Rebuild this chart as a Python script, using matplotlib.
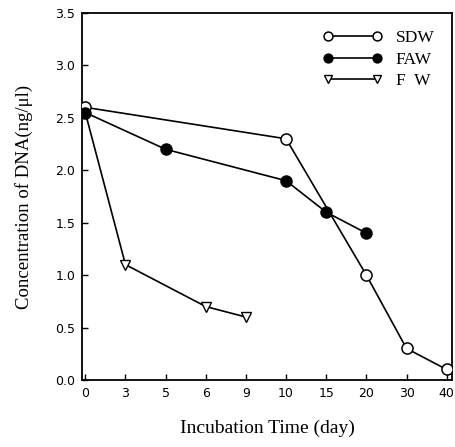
import matplotlib
matplotlib.use("Agg")
import matplotlib.pyplot as plt

# categorical day axis (equally spaced in the original)
days = ["0", "3", "5", "6", "9", "10", "15", "20", "30", "40"]

sdw_days = ["0", "10", "20", "30", "40"]
sdw_vals = [2.6, 2.3, 1.0, 0.3, 0.1]

faw_days = ["0", "5", "10", "15", "20"]
faw_vals = [2.55, 2.2, 1.9, 1.6, 1.4]

fw_days = ["0", "3", "6", "9"]
fw_vals = [2.55, 1.1, 0.7, 0.6]

yticks = [0.0, 0.5, 1.0, 1.5, 2.0, 2.5, 3.0, 3.5]

pos = {d: i for i, d in enumerate(days)}

fig = plt.figure(figsize=(4.56, 4.47), dpi=100)
ax = fig.add_axes([0.18, 0.15, 0.811, 0.821])

lw = 1.2
ax.plot([pos[d] for d in sdw_days], sdw_vals, color="black", lw=lw,
        marker="o", ms=8, mfc="white", mec="black", mew=1.1, label="SDW", zorder=3)
ax.plot([pos[d] for d in faw_days], faw_vals, color="black", lw=lw,
        marker="o", ms=8, mfc="black", mec="black", label="FAW", zorder=4)
ax.plot([pos[d] for d in fw_days], fw_vals, color="black", lw=lw,
        marker="v", ms=7, mfc="white", mec="black", mew=1.0, label="F  W", zorder=2)

ax.set_xlim(-0.08, 9.13)
ax.set_ylim(0, 3.5)
ax.set_xticks(range(len(days)))
ax.set_xticklabels(days)
ax.set_yticks(yticks)
ax.set_yticklabels([f"{v:.1f}" for v in yticks])
ax.tick_params(direction="in", length=4, width=1, labelsize=9, pad=5)
for s in ax.spines.values():
    s.set_linewidth(1.3)

ax.set_xlabel("Incubation Time (day)", family="Liberation Serif", fontsize=14, labelpad=14)
ax.set_ylabel("Concentration of DNA(ng/\u03bcl)", family="Liberation Serif", fontsize=13.5, labelpad=16)

ax.legend(loc="upper right", frameon=False, numpoints=2, handlelength=3.4,
          prop={"family": "Liberation Serif", "size": 12.5}, labelspacing=0.3,
          borderaxespad=0.6, handletextpad=0.8, markerscale=0.8)

fig.savefig("out.png", dpi=100)
